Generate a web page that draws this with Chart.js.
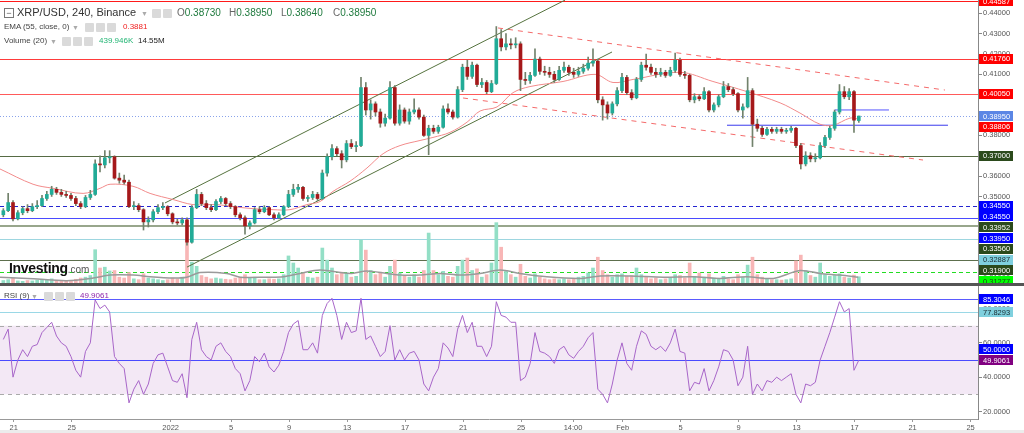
<!DOCTYPE html>
<html>
<head>
<meta charset="utf-8">
<script src="https://cdn.jsdelivr.net/npm/chart.js@4.4.0/dist/chart.umd.min.js"></script>
<style>
  body { margin:0; width:1024px; height:433px; overflow:hidden; background:#fff; position:relative;
         font-family:'Liberation Sans', Arial, sans-serif; }
  #pw  { position:absolute; left:0; top:0;     width:1024px; height:283px; }
  #sep { position:absolute; left:0; top:283px; width:1024px; height:3px; background:#555; }
  #rw  { position:absolute; left:0; top:286px; width:1024px; height:147px; }
  #foot{ position:absolute; left:0; top:430px; width:1024px; height:3px; background:#ececec; }
  .t   { position:absolute; white-space:nowrap; line-height:1; color:#444; font-size:8px; }
  .ic  { position:absolute; width:9px; height:9px; background:#dadada; border-radius:1px; }
  .cr  { position:absolute; font-size:7px; color:#aaa; line-height:1; }
  .g   { color:#1f7a3e; }
  .k   { color:#666; }
</style>
</head>
<body>
<div id="pw"><canvas id="price"></canvas></div>
<div id="sep"></div>
<div id="rw"><canvas id="rsi"></canvas></div>
<div id="foot"></div>

<!-- legend, main panel -->
<div class="t" style="left:4px;top:8px;width:8px;height:8px;border:1px solid #777;font-size:9px;text-align:center;line-height:8px;color:#555">−</div>
<div class="t" style="left:17px;top:7px;font-size:11px;color:#333">XRP/USD, 240, Binance</div>
<div class="cr" style="left:141px;top:10px">▼</div>
<div class="ic" style="left:152px;top:9px"></div>
<div class="ic" style="left:163px;top:9px"></div>
<div class="t" style="left:177px;top:8px;font-size:10px"><span class="k">O</span><span class="g">0.38730</span></div>
<div class="t" style="left:229px;top:8px;font-size:10px"><span class="k">H</span><span class="g">0.38950</span></div>
<div class="t" style="left:281px;top:8px;font-size:10px"><span class="k">L</span><span class="g">0.38640</span></div>
<div class="t" style="left:333px;top:8px;font-size:10px"><span class="k">C</span><span class="g">0.38950</span></div>

<div class="t" style="left:4px;top:23px">EMA (55, close, 0)</div>
<div class="cr" style="left:72px;top:24px">▼</div>
<div class="ic" style="left:85px;top:23px"></div>
<div class="ic" style="left:96px;top:23px"></div>
<div class="ic" style="left:107px;top:23px"></div>
<div class="t" style="left:123px;top:23px;color:#f02020">0.3881</div>

<div class="t" style="left:4px;top:37px">Volume (20)</div>
<div class="cr" style="left:50px;top:38px">▼</div>
<div class="ic" style="left:62px;top:37px"></div>
<div class="ic" style="left:73px;top:37px"></div>
<div class="ic" style="left:84px;top:37px"></div>
<div class="t" style="left:99px;top:37px;color:#22b574">439.946K</div>
<div class="t" style="left:138px;top:37px;color:#222">14.55M</div>

<div class="t" style="left:9px;top:261px;font-size:14px;font-weight:bold;color:#111;letter-spacing:-0.3px">Investing<span style="font-size:10px;font-weight:normal;color:#555;letter-spacing:0">.com</span></div>

<!-- legend, RSI panel -->
<div class="t" style="left:4px;top:292px">RSI (9)</div>
<div class="cr" style="left:31px;top:293px">▼</div>
<div class="ic" style="left:44px;top:292px"></div>
<div class="ic" style="left:55px;top:292px"></div>
<div class="ic" style="left:66px;top:292px"></div>
<div class="t" style="left:80px;top:292px;color:#8e24aa">49.9061</div>

<script>
// ─── data ────────────────────────────────────────────────────────────────
// x = days after 21 Dec 2021, one candle per 8 hours
const FIRST_DAY = -0.71;
const STEP = 1 / 3;

const open = [
  0.3410,0.3430,0.3470,0.3390,0.3420,0.3440,0.3430,0.3450,0.3455,0.3490,
  0.3510,0.3535,0.3520,0.3510,0.3505,0.3490,0.3465,0.3450,0.3495,0.3510,
  0.3660,0.3655,0.3690,0.3695,0.3590,0.3580,0.3570,0.3450,0.3455,0.3435,
  0.3375,0.3385,0.3425,0.3445,0.3450,0.3415,0.3375,0.3370,0.3385,0.3275,
  0.3445,0.3510,0.3465,0.3445,0.3435,0.3475,0.3490,0.3465,0.3450,0.3410,
  0.3395,0.3355,0.3370,0.3435,0.3425,0.3445,0.3410,0.3395,0.3410,0.3450,
  0.3510,0.3535,0.3545,0.3490,0.3495,0.3510,0.3490,0.3615,0.3695,0.3735,
  0.3710,0.3680,0.3760,0.3745,0.3750,0.4035,0.3925,0.3955,0.3915,0.3860,
  0.3885,0.4035,0.3860,0.3925,0.3870,0.3915,0.3925,0.3890,0.3800,0.3835,
  0.3820,0.3840,0.3930,0.3915,0.3890,0.4025,0.4135,0.4090,0.4145,0.4050,
  0.4060,0.4015,0.4055,0.4275,0.4235,0.4250,0.4245,0.4250,0.4075,0.4070,
  0.4095,0.4175,0.4115,0.4110,0.4100,0.4075,0.4120,0.4135,0.4110,0.4100,
  0.4115,0.4130,0.4155,0.4165,0.3975,0.3950,0.3910,0.3955,0.4020,0.4085,
  0.4010,0.3985,0.4075,0.4145,0.4135,0.4110,0.4100,0.4110,0.4095,0.4120,
  0.4170,0.4100,0.4095,0.3975,0.3990,0.3980,0.4015,0.3925,0.3950,0.3990,
  0.4040,0.4025,0.4005,0.3925,0.3940,0.4020,0.3855,0.3835,0.3805,0.3830,
  0.3820,0.3830,0.3820,0.3825,0.3835,0.3750,0.3660,0.3700,0.3685,0.3690,
  0.3750,0.3790,0.3835,0.3915,0.4015,0.3990,0.4015,0.3873
];
const high = [
  0.3440,0.3515,0.3480,0.3430,0.3450,0.3460,0.3465,0.3480,0.3505,0.3525,
  0.3550,0.3545,0.3535,0.3525,0.3515,0.3500,0.3475,0.3505,0.3530,0.3680,
  0.3700,0.3725,0.3725,0.3700,0.3615,0.3605,0.3580,0.3475,0.3465,0.3440,
  0.3400,0.3435,0.3460,0.3470,0.3455,0.3420,0.3390,0.3395,0.3395,0.3455,
  0.3535,0.3520,0.3480,0.3460,0.3485,0.3500,0.3495,0.3475,0.3455,0.3420,
  0.3405,0.3380,0.3445,0.3450,0.3455,0.3450,0.3420,0.3420,0.3455,0.3530,
  0.3560,0.3560,0.3550,0.3505,0.3525,0.3520,0.3630,0.3710,0.3755,0.3745,
  0.3725,0.3775,0.3780,0.3770,0.4085,0.4060,0.3975,0.3965,0.3930,0.3905,
  0.4065,0.4045,0.3950,0.3935,0.3930,0.3980,0.3935,0.3900,0.3850,0.3850,
  0.3850,0.3945,0.3955,0.3925,0.4040,0.4150,0.4170,0.4160,0.4150,0.4080,
  0.4070,0.4070,0.4335,0.4320,0.4300,0.4275,0.4280,0.4260,0.4110,0.4110,
  0.4225,0.4185,0.4140,0.4135,0.4115,0.4140,0.4160,0.4145,0.4130,0.4135,
  0.4150,0.4185,0.4225,0.4175,0.3990,0.3965,0.3965,0.4035,0.4105,0.4095,
  0.4025,0.4085,0.4160,0.4200,0.4150,0.4130,0.4130,0.4120,0.4135,0.4205,
  0.4180,0.4115,0.4100,0.4005,0.4000,0.4035,0.4020,0.3960,0.4000,0.4065,
  0.4055,0.4035,0.4010,0.3955,0.4085,0.4030,0.3880,0.3845,0.3840,0.3840,
  0.3840,0.3840,0.3835,0.3845,0.3840,0.3760,0.3720,0.3715,0.3710,0.3765,
  0.3800,0.3845,0.3925,0.4050,0.4040,0.4030,0.4020,0.3895
];
const low = [
  0.3400,0.3425,0.3380,0.3385,0.3410,0.3420,0.3425,0.3440,0.3450,0.3480,
  0.3500,0.3510,0.3500,0.3495,0.3480,0.3455,0.3440,0.3445,0.3485,0.3505,
  0.3620,0.3640,0.3665,0.3585,0.3565,0.3560,0.3445,0.3435,0.3425,0.3335,
  0.3350,0.3375,0.3415,0.3435,0.3405,0.3365,0.3360,0.3360,0.3260,0.3270,
  0.3440,0.3455,0.3435,0.3425,0.3430,0.3465,0.3455,0.3440,0.3400,0.3385,
  0.3315,0.3340,0.3365,0.3415,0.3420,0.3405,0.3385,0.3390,0.3405,0.3445,
  0.3500,0.3520,0.3480,0.3475,0.3485,0.3480,0.3485,0.3600,0.3680,0.3700,
  0.3640,0.3670,0.3735,0.3720,0.3745,0.3900,0.3880,0.3895,0.3840,0.3845,
  0.3880,0.3850,0.3850,0.3860,0.3855,0.3905,0.3880,0.3795,0.3705,0.3810,
  0.3810,0.3835,0.3905,0.3880,0.3885,0.4015,0.4075,0.4080,0.4040,0.4035,
  0.4005,0.4010,0.4050,0.4215,0.4220,0.4225,0.4230,0.4020,0.4050,0.4055,
  0.4090,0.4100,0.4095,0.4085,0.4060,0.4070,0.4110,0.4095,0.4085,0.4090,
  0.4105,0.4120,0.4140,0.3960,0.3875,0.3880,0.3900,0.3945,0.4010,0.4000,
  0.3975,0.3980,0.4065,0.4120,0.4100,0.4085,0.4090,0.4085,0.4090,0.4110,
  0.4090,0.4080,0.3965,0.3960,0.3970,0.3975,0.3915,0.3915,0.3940,0.3985,
  0.4015,0.3995,0.3915,0.3885,0.3935,0.3745,0.3820,0.3795,0.3800,0.3810,
  0.3810,0.3810,0.3810,0.3815,0.3740,0.3635,0.3650,0.3670,0.3670,0.3685,
  0.3740,0.3780,0.3825,0.3905,0.3980,0.3975,0.3815,0.3864
];
const close = [
  0.3430,0.3470,0.3390,0.3420,0.3440,0.3430,0.3450,0.3455,0.3490,0.3510,
  0.3535,0.3520,0.3510,0.3505,0.3490,0.3465,0.3450,0.3495,0.3510,0.3660,
  0.3655,0.3690,0.3695,0.3590,0.3580,0.3570,0.3450,0.3455,0.3435,0.3375,
  0.3385,0.3425,0.3445,0.3450,0.3415,0.3375,0.3370,0.3385,0.3275,0.3445,
  0.3510,0.3465,0.3445,0.3435,0.3475,0.3490,0.3465,0.3450,0.3410,0.3395,
  0.3355,0.3370,0.3435,0.3425,0.3445,0.3410,0.3395,0.3410,0.3450,0.3510,
  0.3535,0.3545,0.3490,0.3495,0.3510,0.3490,0.3615,0.3695,0.3735,0.3710,
  0.3680,0.3760,0.3745,0.3750,0.4035,0.3925,0.3955,0.3915,0.3860,0.3885,
  0.4035,0.3860,0.3925,0.3870,0.3915,0.3925,0.3890,0.3800,0.3835,0.3820,
  0.3840,0.3930,0.3915,0.3890,0.4025,0.4135,0.4090,0.4145,0.4050,0.4060,
  0.4015,0.4055,0.4275,0.4235,0.4250,0.4245,0.4250,0.4075,0.4070,0.4095,
  0.4175,0.4115,0.4110,0.4100,0.4075,0.4120,0.4135,0.4110,0.4100,0.4115,
  0.4130,0.4155,0.4165,0.3975,0.3950,0.3910,0.3955,0.4020,0.4085,0.4010,
  0.3985,0.4075,0.4145,0.4135,0.4110,0.4100,0.4110,0.4095,0.4120,0.4170,
  0.4100,0.4095,0.3975,0.3990,0.3980,0.4015,0.3925,0.3950,0.3990,0.4040,
  0.4025,0.4005,0.3925,0.3940,0.4020,0.3855,0.3835,0.3805,0.3830,0.3820,
  0.3830,0.3820,0.3825,0.3835,0.3750,0.3660,0.3700,0.3685,0.3690,0.3750,
  0.3790,0.3835,0.3915,0.4015,0.3990,0.4015,0.3875,0.3895
];
// volume, millions
const volume = [
  6,8,12,5,4,6,5,7,9,8,
  10,6,5,4,6,9,12,14,18,80,
  36,38,29,30,14,12,25,10,8,22,
  12,10,8,6,8,12,10,14,96,50,
  40,18,14,10,12,10,9,8,12,14,
  20,12,14,8,8,10,9,10,20,65,
  48,36,24,14,12,14,84,55,36,20,
  26,24,14,16,103,79,30,20,26,14,
  40,55,24,18,14,20,14,30,120,30,
  20,28,16,14,40,55,60,30,34,14,
  20,48,145,86,30,20,14,45,16,12,
  22,14,10,8,10,8,10,8,10,14,
  16,24,36,62,30,20,14,20,22,16,
  18,36,20,14,10,12,8,10,12,20,
  18,12,48,16,24,14,22,12,10,16,
  10,8,20,14,43,62,20,14,10,8,
  8,7,8,10,53,67,30,18,14,48,
  20,16,18,22,14,12,19,15
];
// RSI (9), one value per candle
const rsi = [
  62,68,40,50,56,52,58,59,66,69,
  72,64,60,58,52,44,40,55,60,85,
  80,82,78,52,48,45,25,33,38,30,
  36,48,53,54,46,38,37,42,28,62,
  72,56,52,50,58,60,55,52,45,42,
  32,38,52,49,54,46,43,47,55,66,
  71,73,56,56,60,54,76,83,86,76,
  62,72,66,67,86,62,64,58,52,55,
  70,50,56,50,54,55,50,36,32,40,
  45,60,57,52,68,76,66,72,58,58,
  52,58,84,76,75,72,72,38,40,48,
  66,55,54,52,48,56,58,53,51,55,
  58,63,66,33,30,25,36,50,60,48,
  44,58,67,65,58,56,58,55,60,68,
  55,54,32,37,36,45,32,38,46,56,
  55,50,35,40,58,30,36,32,38,37,
  40,38,40,42,30,25,36,35,37,50,
  58,66,75,84,78,80,44,49.9061
];

const emaDays   = [-0.94,1.34,2.72,4.79,5.96,6.65,8.23,9.41,10.99,12.37,14.03,15.13,16.51,17.89,19.06,
                   20.23,21.13,22.03,23.2,24.37,25.48,26.65,28.03,28.92,30.1,31.27,32.17,33.34,34.44,
                   35.61,37.89,40.1,41.34,42.72,45.96,48.23,50.58,52.86,54.23,55.61,56.51,57.68,58.23];
const emaValues = [0.3635,0.356,0.354,0.3515,0.354,0.356,0.355,0.3515,0.3485,0.346,0.346,0.345,0.344,0.3435,0.3435,
                   0.346,0.3475,0.3525,0.3575,0.364,0.371,0.375,0.3775,0.379,0.3815,0.3865,0.392,0.394,0.401,
                   0.404,0.4065,0.410,0.406,0.4075,0.411,0.4065,0.4015,0.396,0.391,0.3855,0.385,0.3885,0.3881];

const volMaDays   = [-0.94,1.36,3.66,5.5,6.65,8.26,9.41,11.01,11.94,12.86,14.70,15.61,17.45,18.6,19.75,21.13,
                     23.2,24.35,25.73,26.65,28.03,29.41,30.79,32.17,33.55,34.92,36.77,39.06,40.44,42.51,
                     44.81,46.88,48.72,50.56,52.4,54.23,55.61,56.99,58.25];
const volMaValues = [14,10,5.5,12,19,19,15,12,14,25,23,14,14,15,23,31,
                     23,29,23,19,19,23,19,23,31,23,15,11,17,17,
                     14,15,11,15,11,30,23,19,14];

const tickDays   = [0, 4, 10.83, 15, 19, 23, 27, 31, 35, 38.58, 42, 46, 50, 54, 58, 62, 66];
const tickLabels = ['21','25','2022','5','9','13','17','21','25','14:00','Feb','5','9','13','17','21','25'];

// drawn objects: [day, price] end points
const greenUpper = [[10.44, 0.3468], [38.03, 0.4465]];
const greenLower = [[11.96, 0.3153], [41.27, 0.4210]];
const redUpper   = [[33.41, 0.4328], [64.23, 0.4023]];
const redLower   = [[30.99, 0.3984], [62.72, 0.3679]];
const blueShort  = [[56.65, 0.3925], [60.37, 0.3925]];
const blueLong   = [[49.20, 0.3850], [64.44, 0.3850]];

const levelValues = [0.44587, 0.41760, 0.40050, 0.38950, 0.37000, 0.34550, 0.33952, 0.33950, 0.33560, 0.32887, 0.31900, 0.31277];
const levelStyles = [
  { color: '#ff1a1a' }, { color: '#ff3b3b' }, { color: '#ff5a5a' },
  { color: '#8aa3ea', dash: [1, 2] }, { color: '#566b44' },
  { color: '#2424d0', dash: [4, 3] }, { color: '#6f8060' }, { color: '#4a4aff' },
  { color: '#98a68c', width: 2 }, { color: '#9dd6e0' }, { color: '#5d6f4d' },
  { color: '#22dd22', dash: [4, 3] },
];

const tagValues = [0.44587, 0.41760, 0.40050, 0.38950, 0.38806, 0.37000, 0.34550, 0.34550, 0.33952, 0.33950, 0.33560, 0.32887, 0.31900, 0.31277];
const tagTexts  = ['0.44587','0.41760','0.40050','0.38950','0.38806','0.37000','0.34550','0.34550','0.33952','0.33950','0.33560','0.32887','0.31900','0.31277'];
const tagStyles = [
  ['#ff0000','#fff'], ['#ff0000','#fff'], ['#ff0000','#fff'], ['#5b86e5','#fff'], ['#ff0000','#fff'],
  ['#2b4a1c','#fff'], ['#0000ff','#fff'], ['#0000ff','#fff'], ['#2b4a1c','#fff'], ['#0000ff','#fff'],
  ['#2b4a1c','#fff'], ['#7fcfdf','#1a2a30'], ['#2b4a1c','#fff'], ['#00ff00','#1a3a1a'],
];

const rsiLevelValues = [85.3046, 77.8293, 50];
const rsiLevelStyles = [{ color: '#5a5aff' }, { color: '#9ad8e6' }, { color: '#4a4aff' }];
const rsiTagValues = [85.3046, 77.8293, 50, 49.9061];
const rsiTagTexts  = ['85.3046', '77.8293', '50.0000', '49.9061'];
const rsiTagStyles = [['#0000ff','#fff'], ['#7fd0de','#1a2a30'], ['#0000ff','#fff'], ['#800080','#fff']];

// ─── styling ─────────────────────────────────────────────────────────────
const UP = '#21ab97', DOWN = '#a5181a', WICK = '#72826c';
const VOL_UP = '#93dfc6', VOL_DOWN = '#f8b6b6';
const X_MIN = -0.94, X_MAX = 66.51;
const FONT = "'Liberation Sans', Arial, sans-serif";

Chart.defaults.font.family = FONT;
Chart.defaults.font.size = 7.5;
Chart.defaults.color = '#555';

const days = close.map((_, i) => FIRST_DAY + i * STEP);
const isUp = close.map((c, i) => c >= open[i]);
const pts = (xs, ys) => xs.map((x, i) => ({ x, y: ys[i] }));
const seg = a => a.map(p => ({ x: p[0], y: p[1] }));

// horizontal level lines across the plot (plus the 30–70 band on RSI)
const hlines = {
  id: 'hlines',
  beforeDatasetsDraw(chart, args, o) {
    const { ctx, chartArea: a } = chart;
    const s = chart.scales.y;
    ctx.save();
    if (o.band) {
      const y1 = s.getPixelForValue(o.band[1]), y2 = s.getPixelForValue(o.band[0]);
      ctx.fillStyle = '#f3e8f5';
      ctx.fillRect(a.left, y1, a.right - a.left, y2 - y1);
      ctx.strokeStyle = '#aaa'; ctx.lineWidth = 1; ctx.setLineDash([4, 4]);
      [y1, y2].forEach(y => {
        ctx.beginPath(); ctx.moveTo(a.left, Math.round(y) + 0.5); ctx.lineTo(a.right, Math.round(y) + 0.5); ctx.stroke();
      });
    }
    o.values.forEach((v, i) => {
      const st = o.styles[i];
      const w = st.width || 1;
      const y = Math.round(s.getPixelForValue(v)) + (w % 2 ? 0.5 : 0);
      ctx.strokeStyle = st.color; ctx.lineWidth = w; ctx.setLineDash(st.dash || []);
      ctx.beginPath(); ctx.moveTo(a.left, y); ctx.lineTo(a.right, y); ctx.stroke();
    });
    ctx.restore();
  },
};

// coloured price tags on the right axis, stacked so they never overlap
const tags = {
  id: 'tags',
  afterDraw(chart, args, o) {
    const { ctx, chartArea: a } = chart;
    const s = chart.scales.y;
    const H = 10.8;
    const list = o.values.map((v, i) => ({ v, text: o.texts[i], st: o.styles[i], y: s.getPixelForValue(v) }));
    if (o.upward) {
      list.sort((p, q) => p.v - q.v);
      for (let i = 1; i < list.length; i++) list[i].y = Math.min(list[i].y, list[i - 1].y - H);
    } else {
      list.sort((p, q) => q.v - p.v);
      for (let i = 1; i < list.length; i++) list[i].y = Math.max(list[i].y, list[i - 1].y + H);
    }
    ctx.save();
    ctx.font = `7.5px ${FONT}`;
    ctx.textBaseline = 'middle';
    list.forEach(t => {
      ctx.fillStyle = t.st[0];
      ctx.fillRect(a.right + 1, Math.round(t.y - 5), 34, 10);
      ctx.fillStyle = t.st[1];
      ctx.fillText(t.text, a.right + 5, t.y + 0.5);
    });
    ctx.restore();
  },
};

function rightAxis(min, max, step, digits) {
  return {
    position: 'right', min, max,
    ticks: { stepSize: step, includeBounds: false, autoSkip: false, padding: 1, color: '#555',
             font: { size: 7.5 }, callback: v => Number(v).toFixed(digits) },
    grid: { drawOnChartArea: false, drawTicks: true, tickLength: 4, color: '#888' },
    border: { color: '#888' },
    afterFit: s => { s.width = 46; s.paddingTop = 0; s.paddingBottom = 0; },
  };
}

const lineDS = (data, color, extra = {}) => ({
  type: 'line', data, borderColor: color, borderWidth: 1, pointRadius: 0, tension: 0, ...extra,
});

// ─── price panel ─────────────────────────────────────────────────────────
new Chart(document.getElementById('price'), {
  type: 'bar',
  data: {
    datasets: [
      { data: days.map((d, i) => ({ x: d, y: [open[i], close[i]] })),
        backgroundColor: isUp.map(u => u ? UP : DOWN), barThickness: 3, minBarLength: 1,
        grouped: false, order: 1 },
      { data: days.map((d, i) => ({ x: d, y: [low[i], high[i]] })),
        backgroundColor: WICK, barThickness: 1, grouped: false, order: 2 },
      lineDS(pts(emaDays, emaValues), '#f28b8b', { tension: 0.35, order: 3 }),
      lineDS(seg(greenUpper), '#56733f', { order: 4 }),
      lineDS(seg(greenLower), '#56733f', { order: 4 }),
      lineDS(seg(redUpper), '#f46a6a', { borderDash: [5, 5], order: 4 }),
      lineDS(seg(redLower), '#f46a6a', { borderDash: [5, 5], order: 4 }),
      lineDS(seg(blueShort), '#5555ff', { order: 4 }),
      lineDS(seg(blueLong), '#3a3aee', { order: 4 }),
      lineDS(pts(volMaDays, volMaValues), '#9a9a9a', { yAxisID: 'yv', borderWidth: 1.5, tension: 0.3, order: 8 }),
      { data: days.map((d, i) => ({ x: d, y: volume[i] })), yAxisID: 'yv',
        backgroundColor: isUp.map(u => u ? VOL_UP : VOL_DOWN), barThickness: 3, grouped: false, order: 9 },
    ],
  },
  options: {
    responsive: true, maintainAspectRatio: false, animation: false, events: [],
    layout: { padding: 0 },
    plugins: {
      legend: { display: false }, tooltip: { enabled: false },
      hlines: { values: levelValues, styles: levelStyles },
      tags: { values: tagValues, texts: tagTexts, styles: tagStyles },
    },
    scales: {
      x: { type: 'linear', min: X_MIN, max: X_MAX, offset: false, display: false },
      y: rightAxis(0.30747, 0.44654, 0.01, 5),
      yv: { display: false, min: 0, max: 680 },
    },
  },
  plugins: [hlines, tags],
});

// ─── RSI panel ───────────────────────────────────────────────────────────
new Chart(document.getElementById('rsi'), {
  type: 'line',
  data: {
    datasets: [ lineDS(pts(days, rsi), '#a866c9') ],
  },
  options: {
    responsive: true, maintainAspectRatio: false, animation: false, events: [],
    layout: { padding: 0 },
    plugins: {
      legend: { display: false }, tooltip: { enabled: false },
      hlines: { values: rsiLevelValues, styles: rsiLevelStyles, band: [30, 70] },
      tags: { values: rsiTagValues, texts: rsiTagTexts, styles: rsiTagStyles, upward: true },
    },
    scales: {
      x: {
        type: 'linear', min: X_MIN, max: X_MAX, offset: false,
        afterBuildTicks: s => { s.ticks = tickDays.map(v => ({ value: v })); },
        ticks: { autoSkip: false, maxRotation: 0, padding: 1, color: '#555', font: { size: 7.5 },
                 callback: (v, i) => tickLabels[i] },
        grid: { drawOnChartArea: false, drawTicks: true, tickLength: 3, color: '#999' },
        border: { color: '#999' },
        afterFit: s => { s.height = 14; s.paddingLeft = 0; s.paddingRight = 0; },
      },
      y: rightAxis(15.6, 93.15, 20, 4),
    },
  },
  plugins: [hlines, tags],
});
</script>
</body>
</html>
